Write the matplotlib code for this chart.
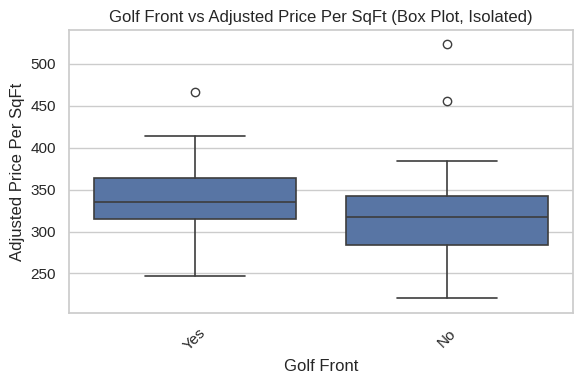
import matplotlib
matplotlib.use("Agg")
import matplotlib.pyplot as plt
import seaborn as sns

# summary values
categories = ["Yes", "No"]
whislo = [247.6, 220.9]
q1 = [315.3, 283.8]
med = [335.4, 317.2]
q3 = [364.2, 341.7]
whishi = [413.7, 383.5]
fliers = [[466.0], [455.9, 523.6]]

sns.set_theme(style="whitegrid")
plt.rcParams['font.family'] = ['Liberation Sans', 'DejaVu Sans']

stats = []
for i, name in enumerate(categories):
    stats.append({"label": name, "whislo": whislo[i], "q1": q1[i], "med": med[i],
                  "q3": q3[i], "whishi": whishi[i], "fliers": fliers[i]})

fig, ax = plt.subplots(figsize=(5.84, 3.84), dpi=100)
fig.subplots_adjust(left=0.118, right=0.981, bottom=0.185, top=0.922)
line_col = "#3d3d3d"
ax.bxp(stats, positions=[0, 1], widths=0.8, patch_artist=True,
       boxprops=dict(facecolor="#5875a4", edgecolor=line_col, linewidth=1.2),
       medianprops=dict(color=line_col, linewidth=1.2),
       whiskerprops=dict(color=line_col, linewidth=1.2),
       capprops=dict(color=line_col, linewidth=1.2),
       flierprops=dict(marker="o", markerfacecolor="none",
                       markeredgecolor=line_col, markersize=6, markeredgewidth=1.0))
ax.set_xlim(-0.5, 1.5)
ax.set_ylim(203, 540)
ax.set_xticks([0, 1])
ax.set_xticklabels(categories, rotation=45, fontsize=11)
ax.tick_params(axis="y", labelsize=11)
ax.xaxis.grid(False)
ax.set_title("Golf Front vs Adjusted Price Per SqFt (Box Plot, Isolated)", fontsize=12)
ax.set_xlabel("Golf Front", fontsize=12)
ax.set_ylabel("Adjusted Price Per SqFt", fontsize=12)
plt.savefig("out.png")
